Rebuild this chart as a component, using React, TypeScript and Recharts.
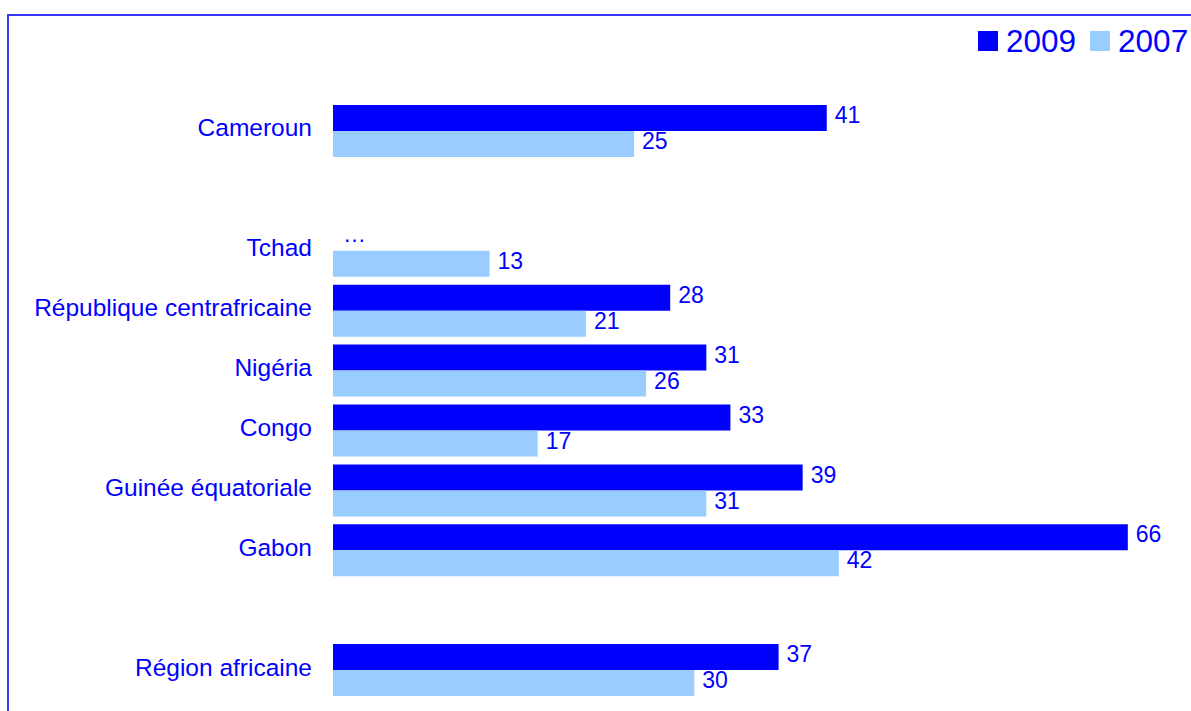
import React from 'react';
import { BarChart, Bar, XAxis, YAxis, LabelList } from 'recharts';

// Données (valeurs en %)
const categories = [
  'Cameroun', '', 'Tchad', 'République centrafricaine', 'Nigéria',
  'Congo', 'Guinée équatoriale', 'Gabon', '', 'Région africaine',
];
const values2009: (number | null)[] = [41, null, null, 28, 31, 33, 39, 66, null, 37];
const values2007: (number | null)[] = [25, null, 13, 21, 26, 17, 31, 42, null, 30];
// pays sans donnée 2009 (affiché "…")
const notAvailable2009 = ['Tchad'];
const years = ['2009', '2007'];

const DARK = '#0000FF';
const LIGHT = '#99CCFF';
const TEXT = '#0000FF';
const FONT = '"Liberation Sans", Arial, sans-serif';
const BAR = 26;

const data = categories.map((name, i) => ({
  name,
  v2009: values2009[i],
  v2007: values2007[i],
}));

// libellé de catégorie + "…" pour les valeurs 2009 non disponibles
const CategoryTick = (props: any) => {
  const { x, y, payload } = props;
  const na = notAvailable2009.includes(payload.value);
  return (
    <g>
      <text x={x} y={y - 3} textAnchor="end" dominantBaseline="central" fill={TEXT} fontSize={24.5} fontFamily={FONT}>
        {payload.value}
      </text>
      {na && (
        <text x={x + 31} y={y - BAR / 2 - 4} textAnchor="start" dominantBaseline="central" fill={TEXT} fontSize={23} fontFamily={FONT}>
          …
        </text>
      )}
    </g>
  );
};

export default function App() {
  return (
    <div style={{ position: 'absolute', left: 0, top: 0, width: 1191, height: 711, background: '#fff' }}>
      <div style={{
        position: 'absolute', left: 7, top: 14, width: 1184, height: 697,
        borderTop: '2px solid #3a3aff', borderLeft: '2px solid #3a3aff', boxSizing: 'border-box',
      }} />
      <div style={{
        position: 'absolute', left: 978, top: 23, display: 'flex', alignItems: 'center',
        fontFamily: FONT, fontSize: 31.5, color: TEXT, lineHeight: '36px', whiteSpace: 'nowrap',
      }}>
        {years.map((yr, i) => (
          <React.Fragment key={yr}>
            <span style={{ width: 20, height: 20, background: i === 0 ? DARK : LIGHT, display: 'inline-block', marginRight: 8 }} />
            <span style={{ marginRight: i === 0 ? 14 : 0 }}>{yr}</span>
          </React.Fragment>
        ))}
      </div>
      <div style={{ position: 'absolute', left: 0, top: 0 }}>
        <BarChart
          width={1191}
          height={711}
          data={data}
          layout="vertical"
          margin={{ top: 101, right: 15, bottom: 11, left: 0 }}
          barGap={0}
        >
          <XAxis type="number" domain={[0, 70]} hide />
          <YAxis
            type="category"
            dataKey="name"
            width={333}
            axisLine={false}
            tickLine={false}
            tickSize={0}
            tickMargin={21}
            interval={0}
            tick={<CategoryTick />}
          />
          <Bar dataKey="v2009" fill={DARK} barSize={BAR} isAnimationActive={false}>
            <LabelList dataKey="v2009" position="right" offset={8} fill={TEXT} fontSize={23} fontFamily={FONT} dy={-3} />
          </Bar>
          <Bar dataKey="v2007" fill={LIGHT} barSize={BAR} isAnimationActive={false}>
            <LabelList dataKey="v2007" position="right" offset={8} fill={TEXT} fontSize={23} fontFamily={FONT} dy={-3} />
          </Bar>
        </BarChart>
      </div>
    </div>
  );
}
